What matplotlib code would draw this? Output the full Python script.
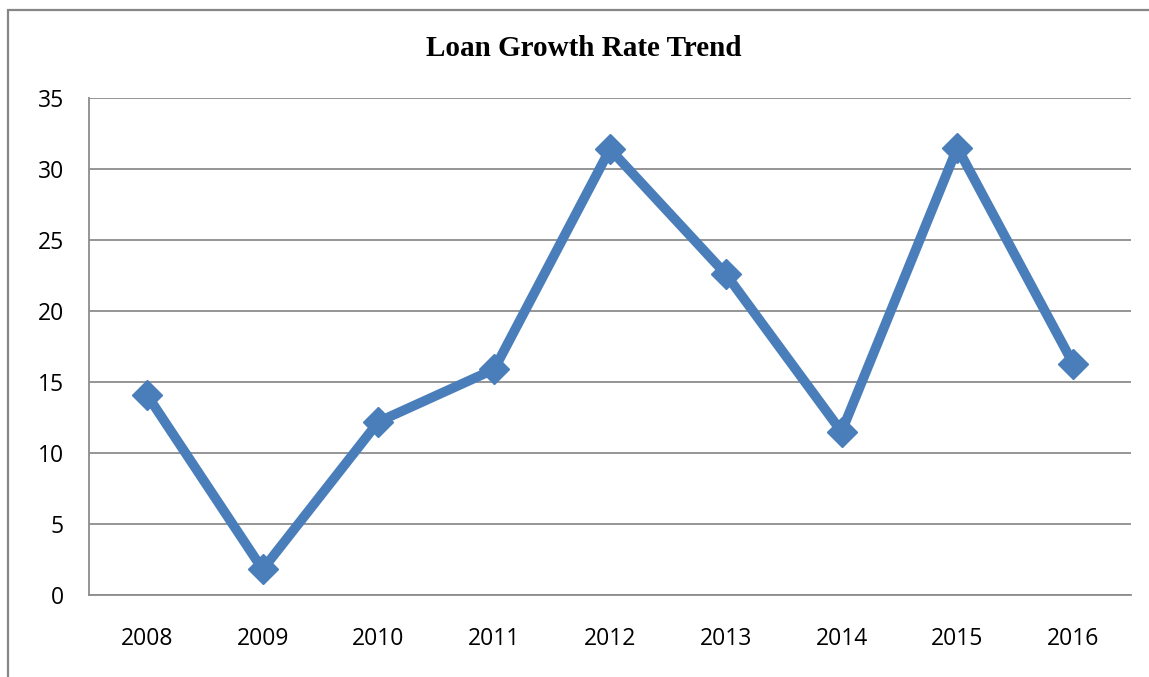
import matplotlib.pyplot as plt
from matplotlib.patches import Rectangle

years = ['2008', '2009', '2010', '2011', '2012', '2013', '2014', '2015', '2016']
growth = [14.1, 1.8, 12.2, 15.9, 31.4, 22.6, 11.5, 31.5, 16.3]

W, H = 1149, 677
fig = plt.figure(figsize=(W / 100, H / 100), dpi=100)
ax = fig.add_axes([89 / W, 1 - 595 / H, (1131 - 89) / W, (595 - 98) / H])

# outer chart border, runs off the right and bottom edges
fig.patches.append(Rectangle((8 / W, -0.05), 1.2, 1 - 10 / H + 0.05,
                             transform=fig.transFigure, fill=False,
                             edgecolor='#868686', linewidth=1.6))

x = range(len(years))
ax.plot(x, growth, color='#4A7EBB', linewidth=7, marker='D',
        markersize=15, markerfacecolor='#4A7EBB', markeredgecolor='#4A7EBB',
        solid_joinstyle='miter', zorder=3)

ax.set_xlim(-0.5, len(years) - 0.5)
ax.set_ylim(0, 35)
ax.set_yticks(range(0, 36, 5))
ax.set_xticks(list(x))
ax.set_xticklabels(years)
ax.yaxis.grid(True, color='#8c8c8c', linewidth=1.3)
ax.set_axisbelow(True)
for s in ['top', 'right']:
    ax.spines[s].set_visible(False)
for s in ['left', 'bottom']:
    ax.spines[s].set_color('#8c8c8c')
    ax.spines[s].set_linewidth(1.3)
ax.tick_params(length=0, labelsize=16.5)
ax.tick_params(axis='x', pad=23)
ax.tick_params(axis='y', pad=18)
for lab in ax.get_xticklabels() + ax.get_yticklabels():
    lab.set_family('Open Sans')

fig.text(584 / W, 1 - 48 / H, 'Loan Growth Rate Trend', ha='center', va='center',
         fontsize=21, fontweight='bold', family='Liberation Serif')

fig.savefig('out.png', dpi=100)
